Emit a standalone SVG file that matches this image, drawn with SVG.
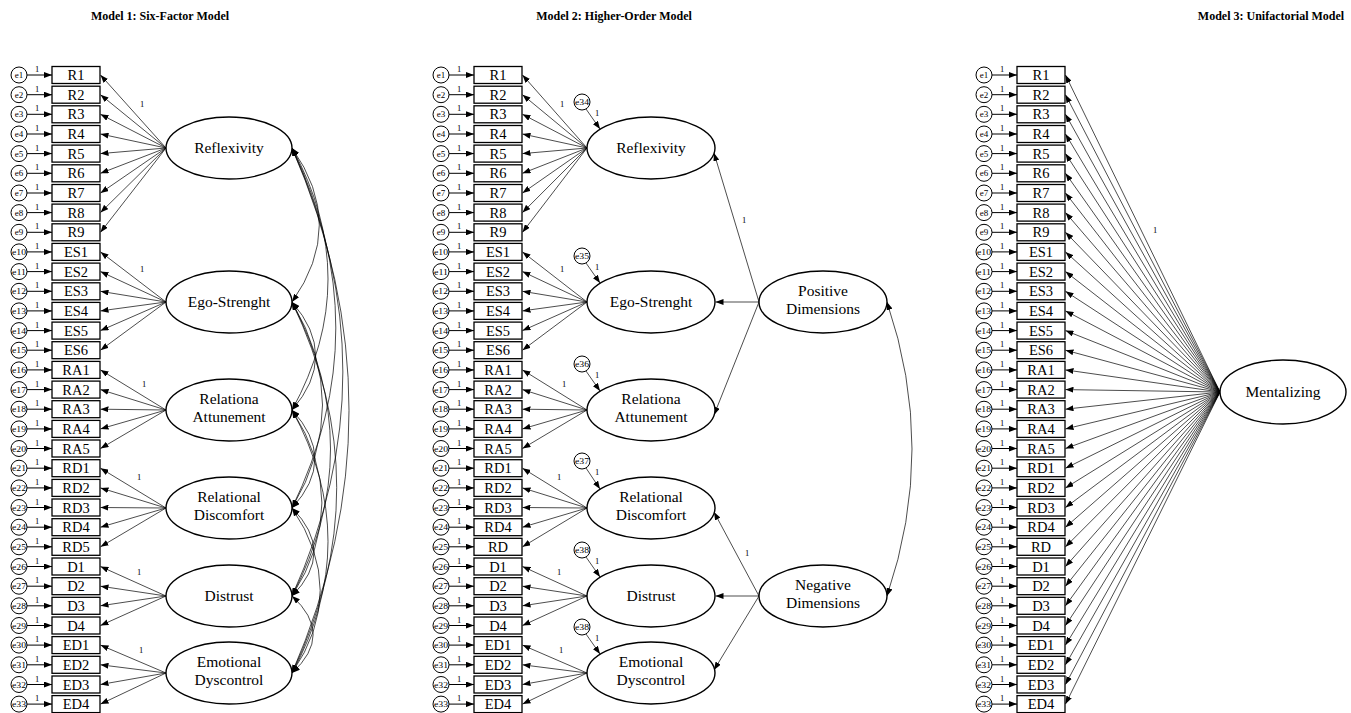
<svg xmlns="http://www.w3.org/2000/svg" xmlns:xlink="http://www.w3.org/1999/xlink" width="1351" height="713" viewBox="0 0 1351 713">
<style>
text{font-family:"Liberation Serif","Times New Roman","DejaVu Serif",serif;fill:#000}
.ttl{font-size:12px;font-weight:bold;text-anchor:middle}
.bx{fill:#fff;stroke:#000;stroke-width:1.3}
.el{fill:#fff;stroke:#000;stroke-width:1.4}
.ec{fill:#fff;stroke:#000;stroke-width:1}
.e{font-size:9px;text-anchor:middle}
.v{font-size:14.5px;text-anchor:middle}
.f{font-size:15.5px;text-anchor:middle}
.one{font-size:8.5px}
.ln{stroke:#000;stroke-width:0.7;fill:none}
.lk{stroke:#000;stroke-width:1;fill:none}
</style>
<defs>
<marker id="ah" viewBox="0 0 10 10" refX="10" refY="5" markerWidth="8" markerHeight="6" markerUnits="userSpaceOnUse" orient="auto-start-reverse" preserveAspectRatio="none"><path d="M0,0 L10,5 L0,10 z" fill="#000"/></marker>
<g id="ea"><line class="lk" x1="8" y1="0" x2="33" y2="0" marker-end="url(#ah)"/><text class="one" x="16" y="-3">1</text></g>
</defs>
<rect width="1351" height="713" fill="#fff"/>
<text class="ttl" x="160" y="20">Model 1: Six-Factor Model</text>
<text class="ttl" x="614" y="20">Model 2: Higher-Order Model</text>
<text class="ttl" x="1271" y="20">Model 3: Unifactorial Model</text>

<g id="connectors">
<use href="#ea" x="19" y="75"/><use href="#ea" x="19" y="94.7"/><use href="#ea" x="19" y="114.3"/><use href="#ea" x="19" y="134"/><use href="#ea" x="19" y="153.6"/><use href="#ea" x="19" y="173.3"/><use href="#ea" x="19" y="193"/><use href="#ea" x="19" y="212.6"/><use href="#ea" x="19" y="232.3"/><use href="#ea" x="19" y="251.9"/><use href="#ea" x="19" y="271.6"/><use href="#ea" x="19" y="291.3"/><use href="#ea" x="19" y="310.9"/><use href="#ea" x="19" y="330.6"/><use href="#ea" x="19" y="350.2"/><use href="#ea" x="19" y="369.9"/><use href="#ea" x="19" y="389.6"/><use href="#ea" x="19" y="409.2"/><use href="#ea" x="19" y="428.9"/><use href="#ea" x="19" y="448.5"/><use href="#ea" x="19" y="468.2"/><use href="#ea" x="19" y="487.9"/><use href="#ea" x="19" y="507.5"/><use href="#ea" x="19" y="527.2"/><use href="#ea" x="19" y="546.8"/><use href="#ea" x="19" y="566.5"/><use href="#ea" x="19" y="586.2"/><use href="#ea" x="19" y="605.8"/><use href="#ea" x="19" y="625.5"/><use href="#ea" x="19" y="645.1"/><use href="#ea" x="19" y="664.8"/><use href="#ea" x="19" y="684.5"/><use href="#ea" x="19" y="704.1"/>
<use href="#ea" x="441" y="75"/><use href="#ea" x="441" y="94.7"/><use href="#ea" x="441" y="114.3"/><use href="#ea" x="441" y="134"/><use href="#ea" x="441" y="153.6"/><use href="#ea" x="441" y="173.3"/><use href="#ea" x="441" y="193"/><use href="#ea" x="441" y="212.6"/><use href="#ea" x="441" y="232.3"/><use href="#ea" x="441" y="251.9"/><use href="#ea" x="441" y="271.6"/><use href="#ea" x="441" y="291.3"/><use href="#ea" x="441" y="310.9"/><use href="#ea" x="441" y="330.6"/><use href="#ea" x="441" y="350.2"/><use href="#ea" x="441" y="369.9"/><use href="#ea" x="441" y="389.6"/><use href="#ea" x="441" y="409.2"/><use href="#ea" x="441" y="428.9"/><use href="#ea" x="441" y="448.5"/><use href="#ea" x="441" y="468.2"/><use href="#ea" x="441" y="487.9"/><use href="#ea" x="441" y="507.5"/><use href="#ea" x="441" y="527.2"/><use href="#ea" x="441" y="546.8"/><use href="#ea" x="441" y="566.5"/><use href="#ea" x="441" y="586.2"/><use href="#ea" x="441" y="605.8"/><use href="#ea" x="441" y="625.5"/><use href="#ea" x="441" y="645.1"/><use href="#ea" x="441" y="664.8"/><use href="#ea" x="441" y="684.5"/><use href="#ea" x="441" y="704.1"/>
<use href="#ea" x="984" y="75"/><use href="#ea" x="984" y="94.7"/><use href="#ea" x="984" y="114.3"/><use href="#ea" x="984" y="134"/><use href="#ea" x="984" y="153.6"/><use href="#ea" x="984" y="173.3"/><use href="#ea" x="984" y="193"/><use href="#ea" x="984" y="212.6"/><use href="#ea" x="984" y="232.3"/><use href="#ea" x="984" y="251.9"/><use href="#ea" x="984" y="271.6"/><use href="#ea" x="984" y="291.3"/><use href="#ea" x="984" y="310.9"/><use href="#ea" x="984" y="330.6"/><use href="#ea" x="984" y="350.2"/><use href="#ea" x="984" y="369.9"/><use href="#ea" x="984" y="389.6"/><use href="#ea" x="984" y="409.2"/><use href="#ea" x="984" y="428.9"/><use href="#ea" x="984" y="448.5"/><use href="#ea" x="984" y="468.2"/><use href="#ea" x="984" y="487.9"/><use href="#ea" x="984" y="507.5"/><use href="#ea" x="984" y="527.2"/><use href="#ea" x="984" y="546.8"/><use href="#ea" x="984" y="566.5"/><use href="#ea" x="984" y="586.2"/><use href="#ea" x="984" y="605.8"/><use href="#ea" x="984" y="625.5"/><use href="#ea" x="984" y="645.1"/><use href="#ea" x="984" y="664.8"/><use href="#ea" x="984" y="684.5"/><use href="#ea" x="984" y="704.1"/>

<g class="ln" marker-end="url(#ah)">
<line x1="166" y1="148" x2="100.5" y2="75"/><line x1="166" y1="148" x2="100.5" y2="94.7"/><line x1="166" y1="148" x2="100.5" y2="114.3"/><line x1="166" y1="148" x2="100.5" y2="134"/><line x1="166" y1="148" x2="100.5" y2="153.6"/><line x1="166" y1="148" x2="100.5" y2="173.3"/><line x1="166" y1="148" x2="100.5" y2="193"/><line x1="166" y1="148" x2="100.5" y2="212.6"/><line x1="166" y1="148" x2="100.5" y2="232.3"/>
<line x1="166" y1="302" x2="100.5" y2="251.9"/><line x1="166" y1="302" x2="100.5" y2="271.6"/><line x1="166" y1="302" x2="100.5" y2="291.3"/><line x1="166" y1="302" x2="100.5" y2="310.9"/><line x1="166" y1="302" x2="100.5" y2="330.6"/><line x1="166" y1="302" x2="100.5" y2="350.2"/>
<line x1="166" y1="410" x2="100.5" y2="369.9"/><line x1="166" y1="410" x2="100.5" y2="389.6"/><line x1="166" y1="410" x2="100.5" y2="409.2"/><line x1="166" y1="410" x2="100.5" y2="428.9"/><line x1="166" y1="410" x2="100.5" y2="448.5"/>
<line x1="166" y1="508" x2="100.5" y2="468.2"/><line x1="166" y1="508" x2="100.5" y2="487.9"/><line x1="166" y1="508" x2="100.5" y2="507.5"/><line x1="166" y1="508" x2="100.5" y2="527.2"/><line x1="166" y1="508" x2="100.5" y2="546.8"/>
<line x1="166" y1="596" x2="100.5" y2="566.5"/><line x1="166" y1="596" x2="100.5" y2="586.2"/><line x1="166" y1="596" x2="100.5" y2="605.8"/><line x1="166" y1="596" x2="100.5" y2="625.5"/>
<line x1="166" y1="673" x2="100.5" y2="645.1"/><line x1="166" y1="673" x2="100.5" y2="664.8"/><line x1="166" y1="673" x2="100.5" y2="684.5"/><line x1="166" y1="673" x2="100.5" y2="704.1"/>
</g>
<g class="one"><text x="140" y="107">1</text><text x="140" y="272">1</text><text x="142" y="387">1</text><text x="137" y="480">1</text><text x="137" y="575">1</text><text x="139" y="653">1</text></g>

<g class="ln" marker-start="url(#ah)" marker-end="url(#ah)">
<path d="M292,148 Q346.6,225 292,302"/>
<path d="M292,148 Q364,279 292,410"/>
<path d="M292,148 Q379.6,328 292,508"/>
<path d="M292,148 Q393.7,372 292,596"/>
<path d="M292,148 Q406,410.5 292,673"/>
<path d="M292,302 Q339.3,356 292,410"/>
<path d="M292,302 Q353,405 292,508"/>
<path d="M292,302 Q369,449 292,596"/>
<path d="M292,302 Q381.4,487.5 292,673"/>
<path d="M292,410 Q337.7,459 292,508"/>
<path d="M292,410 Q351.8,503 292,596"/>
<path d="M292,410 Q364,541.5 292,673"/>
<path d="M292,508 Q336,552 292,596"/>
<path d="M292,508 Q348.4,590.5 292,673"/>
<path d="M292,596 Q334.3,634.5 292,673"/>
</g>

<g class="ln" marker-end="url(#ah)">
<line x1="587" y1="148" x2="522.5" y2="75"/><line x1="587" y1="148" x2="522.5" y2="94.7"/><line x1="587" y1="148" x2="522.5" y2="114.3"/><line x1="587" y1="148" x2="522.5" y2="134"/><line x1="587" y1="148" x2="522.5" y2="153.6"/><line x1="587" y1="148" x2="522.5" y2="173.3"/><line x1="587" y1="148" x2="522.5" y2="193"/><line x1="587" y1="148" x2="522.5" y2="212.6"/><line x1="587" y1="148" x2="522.5" y2="232.3"/>
<line x1="587" y1="302" x2="522.5" y2="251.9"/><line x1="587" y1="302" x2="522.5" y2="271.6"/><line x1="587" y1="302" x2="522.5" y2="291.3"/><line x1="587" y1="302" x2="522.5" y2="310.9"/><line x1="587" y1="302" x2="522.5" y2="330.6"/><line x1="587" y1="302" x2="522.5" y2="350.2"/>
<line x1="587" y1="410" x2="522.5" y2="369.9"/><line x1="587" y1="410" x2="522.5" y2="389.6"/><line x1="587" y1="410" x2="522.5" y2="409.2"/><line x1="587" y1="410" x2="522.5" y2="428.9"/><line x1="587" y1="410" x2="522.5" y2="448.5"/>
<line x1="587" y1="508" x2="522.5" y2="468.2"/><line x1="587" y1="508" x2="522.5" y2="487.9"/><line x1="587" y1="508" x2="522.5" y2="507.5"/><line x1="587" y1="508" x2="522.5" y2="527.2"/><line x1="587" y1="508" x2="522.5" y2="546.8"/>
<line x1="587" y1="596" x2="522.5" y2="566.5"/><line x1="587" y1="596" x2="522.5" y2="586.2"/><line x1="587" y1="596" x2="522.5" y2="605.8"/><line x1="587" y1="596" x2="522.5" y2="625.5"/>
<line x1="587" y1="673" x2="522.5" y2="645.1"/><line x1="587" y1="673" x2="522.5" y2="664.8"/><line x1="587" y1="673" x2="522.5" y2="684.5"/><line x1="587" y1="673" x2="522.5" y2="704.1"/>
<line x1="586" y1="109" x2="600" y2="129"/><line x1="586" y1="263" x2="600" y2="283"/><line x1="586" y1="371" x2="600" y2="391"/><line x1="586" y1="468" x2="600" y2="489"/><line x1="586" y1="557" x2="600" y2="577"/><line x1="586" y1="634" x2="600" y2="654"/>
<line x1="759" y1="302" x2="714" y2="153"/><line x1="759" y1="302" x2="715.5" y2="302"/><line x1="759" y1="302" x2="714" y2="415"/>
<line x1="759" y1="596" x2="714" y2="512"/><line x1="759" y1="596" x2="715.5" y2="596"/><line x1="759" y1="596" x2="714" y2="670"/>
</g>
<path class="ln" d="M887,302 Q937,449 887,596" marker-start="url(#ah)" marker-end="url(#ah)"/>
<g class="one"><text x="560" y="107">1</text><text x="560" y="272">1</text><text x="562" y="387">1</text><text x="557" y="480">1</text><text x="557" y="575">1</text><text x="559" y="653">1</text>
<text x="595" y="116">1</text><text x="595" y="270">1</text><text x="595" y="378">1</text><text x="595" y="475">1</text><text x="595" y="564">1</text><text x="595" y="641">1</text>
<text x="742" y="223">1</text><text x="745" y="556">1</text></g>

<g class="ln" marker-end="url(#ah)">
<line x1="1220" y1="392" x2="1065.5" y2="75"/><line x1="1220" y1="392" x2="1065.5" y2="94.7"/><line x1="1220" y1="392" x2="1065.5" y2="114.3"/><line x1="1220" y1="392" x2="1065.5" y2="134"/><line x1="1220" y1="392" x2="1065.5" y2="153.6"/><line x1="1220" y1="392" x2="1065.5" y2="173.3"/><line x1="1220" y1="392" x2="1065.5" y2="193"/><line x1="1220" y1="392" x2="1065.5" y2="212.6"/><line x1="1220" y1="392" x2="1065.5" y2="232.3"/><line x1="1220" y1="392" x2="1065.5" y2="251.9"/><line x1="1220" y1="392" x2="1065.5" y2="271.6"/><line x1="1220" y1="392" x2="1065.5" y2="291.3"/><line x1="1220" y1="392" x2="1065.5" y2="310.9"/><line x1="1220" y1="392" x2="1065.5" y2="330.6"/><line x1="1220" y1="392" x2="1065.5" y2="350.2"/><line x1="1220" y1="392" x2="1065.5" y2="369.9"/><line x1="1220" y1="392" x2="1065.5" y2="389.6"/><line x1="1220" y1="392" x2="1065.5" y2="409.2"/><line x1="1220" y1="392" x2="1065.5" y2="428.9"/><line x1="1220" y1="392" x2="1065.5" y2="448.5"/><line x1="1220" y1="392" x2="1065.5" y2="468.2"/><line x1="1220" y1="392" x2="1065.5" y2="487.9"/><line x1="1220" y1="392" x2="1065.5" y2="507.5"/><line x1="1220" y1="392" x2="1065.5" y2="527.2"/><line x1="1220" y1="392" x2="1065.5" y2="546.8"/><line x1="1220" y1="392" x2="1065.5" y2="566.5"/><line x1="1220" y1="392" x2="1065.5" y2="586.2"/><line x1="1220" y1="392" x2="1065.5" y2="605.8"/><line x1="1220" y1="392" x2="1065.5" y2="625.5"/><line x1="1220" y1="392" x2="1065.5" y2="645.1"/><line x1="1220" y1="392" x2="1065.5" y2="664.8"/><line x1="1220" y1="392" x2="1065.5" y2="684.5"/><line x1="1220" y1="392" x2="1065.5" y2="704.1"/>
</g>
<text class="one" x="1153" y="233">1</text>
</g>

<g id="m1-r1" transform="translate(19,75)"><circle class="ec" r="8"/><text class="e" y="3">e1</text><rect class="bx" x="33" y="-8.5" width="48" height="17"/><text class="v" x="57" y="5">R1</text></g>
<g id="m1-r2" transform="translate(19,94.7)"><circle class="ec" r="8"/><text class="e" y="3">e2</text><rect class="bx" x="33" y="-8.5" width="48" height="17"/><text class="v" x="57" y="5">R2</text></g>
<g id="m1-r3" transform="translate(19,114.3)"><circle class="ec" r="8"/><text class="e" y="3">e3</text><rect class="bx" x="33" y="-8.5" width="48" height="17"/><text class="v" x="57" y="5">R3</text></g>
<g id="m1-r4" transform="translate(19,134)"><circle class="ec" r="8"/><text class="e" y="3">e4</text><rect class="bx" x="33" y="-8.5" width="48" height="17"/><text class="v" x="57" y="5">R4</text></g>
<g id="m1-r5" transform="translate(19,153.6)"><circle class="ec" r="8"/><text class="e" y="3">e5</text><rect class="bx" x="33" y="-8.5" width="48" height="17"/><text class="v" x="57" y="5">R5</text></g>
<g id="m1-r6" transform="translate(19,173.3)"><circle class="ec" r="8"/><text class="e" y="3">e6</text><rect class="bx" x="33" y="-8.5" width="48" height="17"/><text class="v" x="57" y="5">R6</text></g>
<g id="m1-r7" transform="translate(19,193)"><circle class="ec" r="8"/><text class="e" y="3">e7</text><rect class="bx" x="33" y="-8.5" width="48" height="17"/><text class="v" x="57" y="5">R7</text></g>
<g id="m1-r8" transform="translate(19,212.6)"><circle class="ec" r="8"/><text class="e" y="3">e8</text><rect class="bx" x="33" y="-8.5" width="48" height="17"/><text class="v" x="57" y="5">R8</text></g>
<g id="m1-r9" transform="translate(19,232.3)"><circle class="ec" r="8"/><text class="e" y="3">e9</text><rect class="bx" x="33" y="-8.5" width="48" height="17"/><text class="v" x="57" y="5">R9</text></g>
<g id="m1-r10" transform="translate(19,251.9)"><circle class="ec" r="8"/><text class="e" y="3" textLength="14" lengthAdjust="spacingAndGlyphs">e10</text><rect class="bx" x="33" y="-8.5" width="48" height="17"/><text class="v" x="57" y="5">ES1</text></g>
<g id="m1-r11" transform="translate(19,271.6)"><circle class="ec" r="8"/><text class="e" y="3" textLength="14" lengthAdjust="spacingAndGlyphs">e11</text><rect class="bx" x="33" y="-8.5" width="48" height="17"/><text class="v" x="57" y="5">ES2</text></g>
<g id="m1-r12" transform="translate(19,291.3)"><circle class="ec" r="8"/><text class="e" y="3" textLength="14" lengthAdjust="spacingAndGlyphs">e12</text><rect class="bx" x="33" y="-8.5" width="48" height="17"/><text class="v" x="57" y="5">ES3</text></g>
<g id="m1-r13" transform="translate(19,310.9)"><circle class="ec" r="8"/><text class="e" y="3" textLength="14" lengthAdjust="spacingAndGlyphs">e13</text><rect class="bx" x="33" y="-8.5" width="48" height="17"/><text class="v" x="57" y="5">ES4</text></g>
<g id="m1-r14" transform="translate(19,330.6)"><circle class="ec" r="8"/><text class="e" y="3" textLength="14" lengthAdjust="spacingAndGlyphs">e14</text><rect class="bx" x="33" y="-8.5" width="48" height="17"/><text class="v" x="57" y="5">ES5</text></g>
<g id="m1-r15" transform="translate(19,350.2)"><circle class="ec" r="8"/><text class="e" y="3" textLength="14" lengthAdjust="spacingAndGlyphs">e15</text><rect class="bx" x="33" y="-8.5" width="48" height="17"/><text class="v" x="57" y="5">ES6</text></g>
<g id="m1-r16" transform="translate(19,369.9)"><circle class="ec" r="8"/><text class="e" y="3" textLength="14" lengthAdjust="spacingAndGlyphs">e16</text><rect class="bx" x="33" y="-8.5" width="48" height="17"/><text class="v" x="57" y="5">RA1</text></g>
<g id="m1-r17" transform="translate(19,389.6)"><circle class="ec" r="8"/><text class="e" y="3" textLength="14" lengthAdjust="spacingAndGlyphs">e17</text><rect class="bx" x="33" y="-8.5" width="48" height="17"/><text class="v" x="57" y="5">RA2</text></g>
<g id="m1-r18" transform="translate(19,409.2)"><circle class="ec" r="8"/><text class="e" y="3" textLength="14" lengthAdjust="spacingAndGlyphs">e18</text><rect class="bx" x="33" y="-8.5" width="48" height="17"/><text class="v" x="57" y="5">RA3</text></g>
<g id="m1-r19" transform="translate(19,428.9)"><circle class="ec" r="8"/><text class="e" y="3" textLength="14" lengthAdjust="spacingAndGlyphs">e19</text><rect class="bx" x="33" y="-8.5" width="48" height="17"/><text class="v" x="57" y="5">RA4</text></g>
<g id="m1-r20" transform="translate(19,448.5)"><circle class="ec" r="8"/><text class="e" y="3" textLength="14" lengthAdjust="spacingAndGlyphs">e20</text><rect class="bx" x="33" y="-8.5" width="48" height="17"/><text class="v" x="57" y="5">RA5</text></g>
<g id="m1-r21" transform="translate(19,468.2)"><circle class="ec" r="8"/><text class="e" y="3" textLength="14" lengthAdjust="spacingAndGlyphs">e21</text><rect class="bx" x="33" y="-8.5" width="48" height="17"/><text class="v" x="57" y="5">RD1</text></g>
<g id="m1-r22" transform="translate(19,487.9)"><circle class="ec" r="8"/><text class="e" y="3" textLength="14" lengthAdjust="spacingAndGlyphs">e22</text><rect class="bx" x="33" y="-8.5" width="48" height="17"/><text class="v" x="57" y="5">RD2</text></g>
<g id="m1-r23" transform="translate(19,507.5)"><circle class="ec" r="8"/><text class="e" y="3" textLength="14" lengthAdjust="spacingAndGlyphs">e23</text><rect class="bx" x="33" y="-8.5" width="48" height="17"/><text class="v" x="57" y="5">RD3</text></g>
<g id="m1-r24" transform="translate(19,527.2)"><circle class="ec" r="8"/><text class="e" y="3" textLength="14" lengthAdjust="spacingAndGlyphs">e24</text><rect class="bx" x="33" y="-8.5" width="48" height="17"/><text class="v" x="57" y="5">RD4</text></g>
<g id="m1-r25" transform="translate(19,546.8)"><circle class="ec" r="8"/><text class="e" y="3" textLength="14" lengthAdjust="spacingAndGlyphs">e25</text><rect class="bx" x="33" y="-8.5" width="48" height="17"/><text class="v" x="57" y="5">RD5</text></g>
<g id="m1-r26" transform="translate(19,566.5)"><circle class="ec" r="8"/><text class="e" y="3" textLength="14" lengthAdjust="spacingAndGlyphs">e26</text><rect class="bx" x="33" y="-8.5" width="48" height="17"/><text class="v" x="57" y="5">D1</text></g>
<g id="m1-r27" transform="translate(19,586.2)"><circle class="ec" r="8"/><text class="e" y="3" textLength="14" lengthAdjust="spacingAndGlyphs">e27</text><rect class="bx" x="33" y="-8.5" width="48" height="17"/><text class="v" x="57" y="5">D2</text></g>
<g id="m1-r28" transform="translate(19,605.8)"><circle class="ec" r="8"/><text class="e" y="3" textLength="14" lengthAdjust="spacingAndGlyphs">e28</text><rect class="bx" x="33" y="-8.5" width="48" height="17"/><text class="v" x="57" y="5">D3</text></g>
<g id="m1-r29" transform="translate(19,625.5)"><circle class="ec" r="8"/><text class="e" y="3" textLength="14" lengthAdjust="spacingAndGlyphs">e29</text><rect class="bx" x="33" y="-8.5" width="48" height="17"/><text class="v" x="57" y="5">D4</text></g>
<g id="m1-r30" transform="translate(19,645.1)"><circle class="ec" r="8"/><text class="e" y="3" textLength="14" lengthAdjust="spacingAndGlyphs">e30</text><rect class="bx" x="33" y="-8.5" width="48" height="17"/><text class="v" x="57" y="5">ED1</text></g>
<g id="m1-r31" transform="translate(19,664.8)"><circle class="ec" r="8"/><text class="e" y="3" textLength="14" lengthAdjust="spacingAndGlyphs">e31</text><rect class="bx" x="33" y="-8.5" width="48" height="17"/><text class="v" x="57" y="5">ED2</text></g>
<g id="m1-r32" transform="translate(19,684.5)"><circle class="ec" r="8"/><text class="e" y="3" textLength="14" lengthAdjust="spacingAndGlyphs">e32</text><rect class="bx" x="33" y="-8.5" width="48" height="17"/><text class="v" x="57" y="5">ED3</text></g>
<g id="m1-r33" transform="translate(19,704.1)"><circle class="ec" r="8"/><text class="e" y="3" textLength="14" lengthAdjust="spacingAndGlyphs">e33</text><rect class="bx" x="33" y="-8.5" width="48" height="17"/><text class="v" x="57" y="5">ED4</text></g>

<g id="m1-reflexivity"><ellipse class="el" cx="229" cy="148" rx="63" ry="31"/><text class="f" x="229" y="153">Reflexivity</text></g>
<g id="m1-ego"><ellipse class="el" cx="229" cy="302" rx="63" ry="31"/><text class="f" x="229" y="307">Ego-Strenght</text></g>
<g id="m1-ra"><ellipse class="el" cx="229" cy="410" rx="63" ry="31"/><text class="f" x="229" y="404">Relationa</text><text class="f" x="229" y="422">Attunement</text></g>
<g id="m1-rd"><ellipse class="el" cx="229" cy="508" rx="63" ry="31"/><text class="f" x="229" y="502">Relational</text><text class="f" x="229" y="520">Discomfort</text></g>
<g id="m1-d"><ellipse class="el" cx="229" cy="596" rx="63" ry="31"/><text class="f" x="229" y="601">Distrust</text></g>
<g id="m1-ed"><ellipse class="el" cx="229" cy="673" rx="63" ry="31"/><text class="f" x="229" y="667">Emotional</text><text class="f" x="229" y="685">Dyscontrol</text></g>

<g id="m2-r1" transform="translate(441,75)"><circle class="ec" r="8"/><text class="e" y="3">e1</text><rect class="bx" x="33" y="-8.5" width="48" height="17"/><text class="v" x="57" y="5">R1</text></g>
<g id="m2-r2" transform="translate(441,94.7)"><circle class="ec" r="8"/><text class="e" y="3">e2</text><rect class="bx" x="33" y="-8.5" width="48" height="17"/><text class="v" x="57" y="5">R2</text></g>
<g id="m2-r3" transform="translate(441,114.3)"><circle class="ec" r="8"/><text class="e" y="3">e3</text><rect class="bx" x="33" y="-8.5" width="48" height="17"/><text class="v" x="57" y="5">R3</text></g>
<g id="m2-r4" transform="translate(441,134)"><circle class="ec" r="8"/><text class="e" y="3">e4</text><rect class="bx" x="33" y="-8.5" width="48" height="17"/><text class="v" x="57" y="5">R4</text></g>
<g id="m2-r5" transform="translate(441,153.6)"><circle class="ec" r="8"/><text class="e" y="3">e5</text><rect class="bx" x="33" y="-8.5" width="48" height="17"/><text class="v" x="57" y="5">R5</text></g>
<g id="m2-r6" transform="translate(441,173.3)"><circle class="ec" r="8"/><text class="e" y="3">e6</text><rect class="bx" x="33" y="-8.5" width="48" height="17"/><text class="v" x="57" y="5">R6</text></g>
<g id="m2-r7" transform="translate(441,193)"><circle class="ec" r="8"/><text class="e" y="3">e7</text><rect class="bx" x="33" y="-8.5" width="48" height="17"/><text class="v" x="57" y="5">R7</text></g>
<g id="m2-r8" transform="translate(441,212.6)"><circle class="ec" r="8"/><text class="e" y="3">e8</text><rect class="bx" x="33" y="-8.5" width="48" height="17"/><text class="v" x="57" y="5">R8</text></g>
<g id="m2-r9" transform="translate(441,232.3)"><circle class="ec" r="8"/><text class="e" y="3">e9</text><rect class="bx" x="33" y="-8.5" width="48" height="17"/><text class="v" x="57" y="5">R9</text></g>
<g id="m2-r10" transform="translate(441,251.9)"><circle class="ec" r="8"/><text class="e" y="3" textLength="14" lengthAdjust="spacingAndGlyphs">e10</text><rect class="bx" x="33" y="-8.5" width="48" height="17"/><text class="v" x="57" y="5">ES1</text></g>
<g id="m2-r11" transform="translate(441,271.6)"><circle class="ec" r="8"/><text class="e" y="3" textLength="14" lengthAdjust="spacingAndGlyphs">e11</text><rect class="bx" x="33" y="-8.5" width="48" height="17"/><text class="v" x="57" y="5">ES2</text></g>
<g id="m2-r12" transform="translate(441,291.3)"><circle class="ec" r="8"/><text class="e" y="3" textLength="14" lengthAdjust="spacingAndGlyphs">e12</text><rect class="bx" x="33" y="-8.5" width="48" height="17"/><text class="v" x="57" y="5">ES3</text></g>
<g id="m2-r13" transform="translate(441,310.9)"><circle class="ec" r="8"/><text class="e" y="3" textLength="14" lengthAdjust="spacingAndGlyphs">e13</text><rect class="bx" x="33" y="-8.5" width="48" height="17"/><text class="v" x="57" y="5">ES4</text></g>
<g id="m2-r14" transform="translate(441,330.6)"><circle class="ec" r="8"/><text class="e" y="3" textLength="14" lengthAdjust="spacingAndGlyphs">e14</text><rect class="bx" x="33" y="-8.5" width="48" height="17"/><text class="v" x="57" y="5">ES5</text></g>
<g id="m2-r15" transform="translate(441,350.2)"><circle class="ec" r="8"/><text class="e" y="3" textLength="14" lengthAdjust="spacingAndGlyphs">e15</text><rect class="bx" x="33" y="-8.5" width="48" height="17"/><text class="v" x="57" y="5">ES6</text></g>
<g id="m2-r16" transform="translate(441,369.9)"><circle class="ec" r="8"/><text class="e" y="3" textLength="14" lengthAdjust="spacingAndGlyphs">e16</text><rect class="bx" x="33" y="-8.5" width="48" height="17"/><text class="v" x="57" y="5">RA1</text></g>
<g id="m2-r17" transform="translate(441,389.6)"><circle class="ec" r="8"/><text class="e" y="3" textLength="14" lengthAdjust="spacingAndGlyphs">e17</text><rect class="bx" x="33" y="-8.5" width="48" height="17"/><text class="v" x="57" y="5">RA2</text></g>
<g id="m2-r18" transform="translate(441,409.2)"><circle class="ec" r="8"/><text class="e" y="3" textLength="14" lengthAdjust="spacingAndGlyphs">e18</text><rect class="bx" x="33" y="-8.5" width="48" height="17"/><text class="v" x="57" y="5">RA3</text></g>
<g id="m2-r19" transform="translate(441,428.9)"><circle class="ec" r="8"/><text class="e" y="3" textLength="14" lengthAdjust="spacingAndGlyphs">e19</text><rect class="bx" x="33" y="-8.5" width="48" height="17"/><text class="v" x="57" y="5">RA4</text></g>
<g id="m2-r20" transform="translate(441,448.5)"><circle class="ec" r="8"/><text class="e" y="3" textLength="14" lengthAdjust="spacingAndGlyphs">e20</text><rect class="bx" x="33" y="-8.5" width="48" height="17"/><text class="v" x="57" y="5">RA5</text></g>
<g id="m2-r21" transform="translate(441,468.2)"><circle class="ec" r="8"/><text class="e" y="3" textLength="14" lengthAdjust="spacingAndGlyphs">e21</text><rect class="bx" x="33" y="-8.5" width="48" height="17"/><text class="v" x="57" y="5">RD1</text></g>
<g id="m2-r22" transform="translate(441,487.9)"><circle class="ec" r="8"/><text class="e" y="3" textLength="14" lengthAdjust="spacingAndGlyphs">e22</text><rect class="bx" x="33" y="-8.5" width="48" height="17"/><text class="v" x="57" y="5">RD2</text></g>
<g id="m2-r23" transform="translate(441,507.5)"><circle class="ec" r="8"/><text class="e" y="3" textLength="14" lengthAdjust="spacingAndGlyphs">e23</text><rect class="bx" x="33" y="-8.5" width="48" height="17"/><text class="v" x="57" y="5">RD3</text></g>
<g id="m2-r24" transform="translate(441,527.2)"><circle class="ec" r="8"/><text class="e" y="3" textLength="14" lengthAdjust="spacingAndGlyphs">e24</text><rect class="bx" x="33" y="-8.5" width="48" height="17"/><text class="v" x="57" y="5">RD4</text></g>
<g id="m2-r25" transform="translate(441,546.8)"><circle class="ec" r="8"/><text class="e" y="3" textLength="14" lengthAdjust="spacingAndGlyphs">e25</text><rect class="bx" x="33" y="-8.5" width="48" height="17"/><text class="v" x="57" y="5">RD</text></g>
<g id="m2-r26" transform="translate(441,566.5)"><circle class="ec" r="8"/><text class="e" y="3" textLength="14" lengthAdjust="spacingAndGlyphs">e26</text><rect class="bx" x="33" y="-8.5" width="48" height="17"/><text class="v" x="57" y="5">D1</text></g>
<g id="m2-r27" transform="translate(441,586.2)"><circle class="ec" r="8"/><text class="e" y="3" textLength="14" lengthAdjust="spacingAndGlyphs">e27</text><rect class="bx" x="33" y="-8.5" width="48" height="17"/><text class="v" x="57" y="5">D2</text></g>
<g id="m2-r28" transform="translate(441,605.8)"><circle class="ec" r="8"/><text class="e" y="3" textLength="14" lengthAdjust="spacingAndGlyphs">e28</text><rect class="bx" x="33" y="-8.5" width="48" height="17"/><text class="v" x="57" y="5">D3</text></g>
<g id="m2-r29" transform="translate(441,625.5)"><circle class="ec" r="8"/><text class="e" y="3" textLength="14" lengthAdjust="spacingAndGlyphs">e29</text><rect class="bx" x="33" y="-8.5" width="48" height="17"/><text class="v" x="57" y="5">D4</text></g>
<g id="m2-r30" transform="translate(441,645.1)"><circle class="ec" r="8"/><text class="e" y="3" textLength="14" lengthAdjust="spacingAndGlyphs">e30</text><rect class="bx" x="33" y="-8.5" width="48" height="17"/><text class="v" x="57" y="5">ED1</text></g>
<g id="m2-r31" transform="translate(441,664.8)"><circle class="ec" r="8"/><text class="e" y="3" textLength="14" lengthAdjust="spacingAndGlyphs">e31</text><rect class="bx" x="33" y="-8.5" width="48" height="17"/><text class="v" x="57" y="5">ED2</text></g>
<g id="m2-r32" transform="translate(441,684.5)"><circle class="ec" r="8"/><text class="e" y="3" textLength="14" lengthAdjust="spacingAndGlyphs">e32</text><rect class="bx" x="33" y="-8.5" width="48" height="17"/><text class="v" x="57" y="5">ED3</text></g>
<g id="m2-r33" transform="translate(441,704.1)"><circle class="ec" r="8"/><text class="e" y="3" textLength="14" lengthAdjust="spacingAndGlyphs">e33</text><rect class="bx" x="33" y="-8.5" width="48" height="17"/><text class="v" x="57" y="5">ED4</text></g>

<g id="m2-e34"><circle class="ec" cx="582" cy="102" r="8"/><text class="e" x="582" y="105" textLength="14" lengthAdjust="spacingAndGlyphs">e34</text></g>
<g id="m2-e35"><circle class="ec" cx="582" cy="256" r="8"/><text class="e" x="582" y="259" textLength="14" lengthAdjust="spacingAndGlyphs">e35</text></g>
<g id="m2-e36"><circle class="ec" cx="582" cy="364" r="8"/><text class="e" x="582" y="367" textLength="14" lengthAdjust="spacingAndGlyphs">e36</text></g>
<g id="m2-e37"><circle class="ec" cx="582" cy="461" r="8"/><text class="e" x="582" y="464" textLength="14" lengthAdjust="spacingAndGlyphs">e37</text></g>
<g id="m2-e38a"><circle class="ec" cx="582" cy="550" r="8"/><text class="e" x="582" y="553" textLength="14" lengthAdjust="spacingAndGlyphs">e38</text></g>
<g id="m2-e38b"><circle class="ec" cx="582" cy="627" r="8"/><text class="e" x="582" y="630" textLength="14" lengthAdjust="spacingAndGlyphs">e38</text></g>

<g id="m2-reflexivity"><ellipse class="el" cx="651" cy="148" rx="64" ry="31"/><text class="f" x="651" y="153">Reflexivity</text></g>
<g id="m2-ego"><ellipse class="el" cx="651" cy="302" rx="64" ry="31"/><text class="f" x="651" y="307">Ego-Strenght</text></g>
<g id="m2-ra"><ellipse class="el" cx="651" cy="410" rx="64" ry="31"/><text class="f" x="651" y="404">Relationa</text><text class="f" x="651" y="422">Attunement</text></g>
<g id="m2-rd"><ellipse class="el" cx="651" cy="508" rx="64" ry="31"/><text class="f" x="651" y="502">Relational</text><text class="f" x="651" y="520">Discomfort</text></g>
<g id="m2-d"><ellipse class="el" cx="651" cy="596" rx="64" ry="31"/><text class="f" x="651" y="601">Distrust</text></g>
<g id="m2-ed"><ellipse class="el" cx="651" cy="673" rx="64" ry="31"/><text class="f" x="651" y="667">Emotional</text><text class="f" x="651" y="685">Dyscontrol</text></g>
<g id="m2-positive"><ellipse class="el" cx="823" cy="302" rx="64" ry="31"/><text class="f" x="823" y="296">Positive</text><text class="f" x="823" y="314">Dimensions</text></g>
<g id="m2-negative"><ellipse class="el" cx="823" cy="596" rx="64" ry="31"/><text class="f" x="823" y="590">Negative</text><text class="f" x="823" y="608">Dimensions</text></g>

<g id="m3-r1" transform="translate(984,75)"><circle class="ec" r="8"/><text class="e" y="3">e1</text><rect class="bx" x="33" y="-8.5" width="48" height="17"/><text class="v" x="57" y="5">R1</text></g>
<g id="m3-r2" transform="translate(984,94.7)"><circle class="ec" r="8"/><text class="e" y="3">e2</text><rect class="bx" x="33" y="-8.5" width="48" height="17"/><text class="v" x="57" y="5">R2</text></g>
<g id="m3-r3" transform="translate(984,114.3)"><circle class="ec" r="8"/><text class="e" y="3">e3</text><rect class="bx" x="33" y="-8.5" width="48" height="17"/><text class="v" x="57" y="5">R3</text></g>
<g id="m3-r4" transform="translate(984,134)"><circle class="ec" r="8"/><text class="e" y="3">e4</text><rect class="bx" x="33" y="-8.5" width="48" height="17"/><text class="v" x="57" y="5">R4</text></g>
<g id="m3-r5" transform="translate(984,153.6)"><circle class="ec" r="8"/><text class="e" y="3">e5</text><rect class="bx" x="33" y="-8.5" width="48" height="17"/><text class="v" x="57" y="5">R5</text></g>
<g id="m3-r6" transform="translate(984,173.3)"><circle class="ec" r="8"/><text class="e" y="3">e6</text><rect class="bx" x="33" y="-8.5" width="48" height="17"/><text class="v" x="57" y="5">R6</text></g>
<g id="m3-r7" transform="translate(984,193)"><circle class="ec" r="8"/><text class="e" y="3">e7</text><rect class="bx" x="33" y="-8.5" width="48" height="17"/><text class="v" x="57" y="5">R7</text></g>
<g id="m3-r8" transform="translate(984,212.6)"><circle class="ec" r="8"/><text class="e" y="3">e8</text><rect class="bx" x="33" y="-8.5" width="48" height="17"/><text class="v" x="57" y="5">R8</text></g>
<g id="m3-r9" transform="translate(984,232.3)"><circle class="ec" r="8"/><text class="e" y="3">e9</text><rect class="bx" x="33" y="-8.5" width="48" height="17"/><text class="v" x="57" y="5">R9</text></g>
<g id="m3-r10" transform="translate(984,251.9)"><circle class="ec" r="8"/><text class="e" y="3" textLength="14" lengthAdjust="spacingAndGlyphs">e10</text><rect class="bx" x="33" y="-8.5" width="48" height="17"/><text class="v" x="57" y="5">ES1</text></g>
<g id="m3-r11" transform="translate(984,271.6)"><circle class="ec" r="8"/><text class="e" y="3" textLength="14" lengthAdjust="spacingAndGlyphs">e11</text><rect class="bx" x="33" y="-8.5" width="48" height="17"/><text class="v" x="57" y="5">ES2</text></g>
<g id="m3-r12" transform="translate(984,291.3)"><circle class="ec" r="8"/><text class="e" y="3" textLength="14" lengthAdjust="spacingAndGlyphs">e12</text><rect class="bx" x="33" y="-8.5" width="48" height="17"/><text class="v" x="57" y="5">ES3</text></g>
<g id="m3-r13" transform="translate(984,310.9)"><circle class="ec" r="8"/><text class="e" y="3" textLength="14" lengthAdjust="spacingAndGlyphs">e13</text><rect class="bx" x="33" y="-8.5" width="48" height="17"/><text class="v" x="57" y="5">ES4</text></g>
<g id="m3-r14" transform="translate(984,330.6)"><circle class="ec" r="8"/><text class="e" y="3" textLength="14" lengthAdjust="spacingAndGlyphs">e14</text><rect class="bx" x="33" y="-8.5" width="48" height="17"/><text class="v" x="57" y="5">ES5</text></g>
<g id="m3-r15" transform="translate(984,350.2)"><circle class="ec" r="8"/><text class="e" y="3" textLength="14" lengthAdjust="spacingAndGlyphs">e15</text><rect class="bx" x="33" y="-8.5" width="48" height="17"/><text class="v" x="57" y="5">ES6</text></g>
<g id="m3-r16" transform="translate(984,369.9)"><circle class="ec" r="8"/><text class="e" y="3" textLength="14" lengthAdjust="spacingAndGlyphs">e16</text><rect class="bx" x="33" y="-8.5" width="48" height="17"/><text class="v" x="57" y="5">RA1</text></g>
<g id="m3-r17" transform="translate(984,389.6)"><circle class="ec" r="8"/><text class="e" y="3" textLength="14" lengthAdjust="spacingAndGlyphs">e17</text><rect class="bx" x="33" y="-8.5" width="48" height="17"/><text class="v" x="57" y="5">RA2</text></g>
<g id="m3-r18" transform="translate(984,409.2)"><circle class="ec" r="8"/><text class="e" y="3" textLength="14" lengthAdjust="spacingAndGlyphs">e18</text><rect class="bx" x="33" y="-8.5" width="48" height="17"/><text class="v" x="57" y="5">RA3</text></g>
<g id="m3-r19" transform="translate(984,428.9)"><circle class="ec" r="8"/><text class="e" y="3" textLength="14" lengthAdjust="spacingAndGlyphs">e19</text><rect class="bx" x="33" y="-8.5" width="48" height="17"/><text class="v" x="57" y="5">RA4</text></g>
<g id="m3-r20" transform="translate(984,448.5)"><circle class="ec" r="8"/><text class="e" y="3" textLength="14" lengthAdjust="spacingAndGlyphs">e20</text><rect class="bx" x="33" y="-8.5" width="48" height="17"/><text class="v" x="57" y="5">RA5</text></g>
<g id="m3-r21" transform="translate(984,468.2)"><circle class="ec" r="8"/><text class="e" y="3" textLength="14" lengthAdjust="spacingAndGlyphs">e21</text><rect class="bx" x="33" y="-8.5" width="48" height="17"/><text class="v" x="57" y="5">RD1</text></g>
<g id="m3-r22" transform="translate(984,487.9)"><circle class="ec" r="8"/><text class="e" y="3" textLength="14" lengthAdjust="spacingAndGlyphs">e22</text><rect class="bx" x="33" y="-8.5" width="48" height="17"/><text class="v" x="57" y="5">RD2</text></g>
<g id="m3-r23" transform="translate(984,507.5)"><circle class="ec" r="8"/><text class="e" y="3" textLength="14" lengthAdjust="spacingAndGlyphs">e23</text><rect class="bx" x="33" y="-8.5" width="48" height="17"/><text class="v" x="57" y="5">RD3</text></g>
<g id="m3-r24" transform="translate(984,527.2)"><circle class="ec" r="8"/><text class="e" y="3" textLength="14" lengthAdjust="spacingAndGlyphs">e24</text><rect class="bx" x="33" y="-8.5" width="48" height="17"/><text class="v" x="57" y="5">RD4</text></g>
<g id="m3-r25" transform="translate(984,546.8)"><circle class="ec" r="8"/><text class="e" y="3" textLength="14" lengthAdjust="spacingAndGlyphs">e25</text><rect class="bx" x="33" y="-8.5" width="48" height="17"/><text class="v" x="57" y="5">RD</text></g>
<g id="m3-r26" transform="translate(984,566.5)"><circle class="ec" r="8"/><text class="e" y="3" textLength="14" lengthAdjust="spacingAndGlyphs">e26</text><rect class="bx" x="33" y="-8.5" width="48" height="17"/><text class="v" x="57" y="5">D1</text></g>
<g id="m3-r27" transform="translate(984,586.2)"><circle class="ec" r="8"/><text class="e" y="3" textLength="14" lengthAdjust="spacingAndGlyphs">e27</text><rect class="bx" x="33" y="-8.5" width="48" height="17"/><text class="v" x="57" y="5">D2</text></g>
<g id="m3-r28" transform="translate(984,605.8)"><circle class="ec" r="8"/><text class="e" y="3" textLength="14" lengthAdjust="spacingAndGlyphs">e28</text><rect class="bx" x="33" y="-8.5" width="48" height="17"/><text class="v" x="57" y="5">D3</text></g>
<g id="m3-r29" transform="translate(984,625.5)"><circle class="ec" r="8"/><text class="e" y="3" textLength="14" lengthAdjust="spacingAndGlyphs">e29</text><rect class="bx" x="33" y="-8.5" width="48" height="17"/><text class="v" x="57" y="5">D4</text></g>
<g id="m3-r30" transform="translate(984,645.1)"><circle class="ec" r="8"/><text class="e" y="3" textLength="14" lengthAdjust="spacingAndGlyphs">e30</text><rect class="bx" x="33" y="-8.5" width="48" height="17"/><text class="v" x="57" y="5">ED1</text></g>
<g id="m3-r31" transform="translate(984,664.8)"><circle class="ec" r="8"/><text class="e" y="3" textLength="14" lengthAdjust="spacingAndGlyphs">e31</text><rect class="bx" x="33" y="-8.5" width="48" height="17"/><text class="v" x="57" y="5">ED2</text></g>
<g id="m3-r32" transform="translate(984,684.5)"><circle class="ec" r="8"/><text class="e" y="3" textLength="14" lengthAdjust="spacingAndGlyphs">e32</text><rect class="bx" x="33" y="-8.5" width="48" height="17"/><text class="v" x="57" y="5">ED3</text></g>
<g id="m3-r33" transform="translate(984,704.1)"><circle class="ec" r="8"/><text class="e" y="3" textLength="14" lengthAdjust="spacingAndGlyphs">e33</text><rect class="bx" x="33" y="-8.5" width="48" height="17"/><text class="v" x="57" y="5">ED4</text></g>

<g id="m3-mentalizing"><ellipse class="el" cx="1283" cy="392" rx="63" ry="32"/><text class="f" x="1283" y="397">Mentalizing</text></g>
</svg>
